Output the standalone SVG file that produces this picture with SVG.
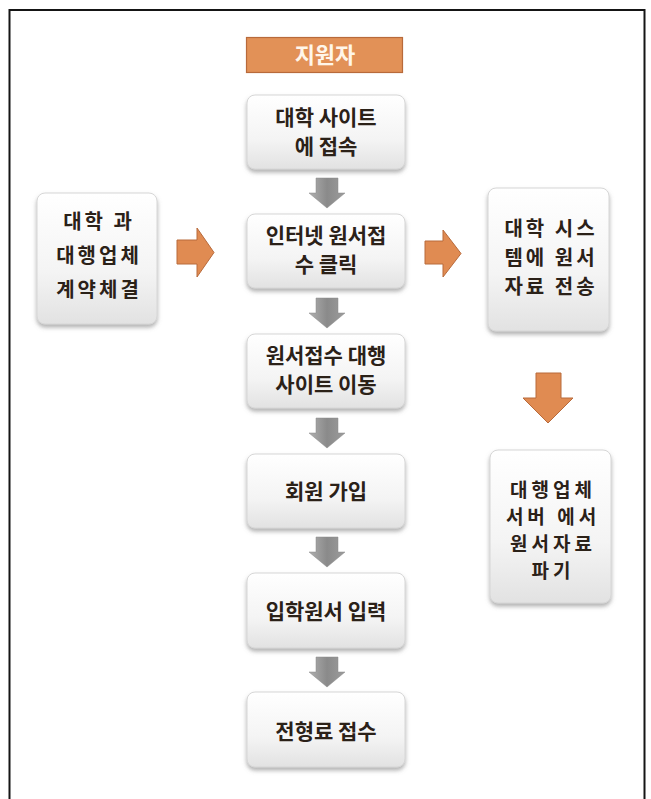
<svg xmlns="http://www.w3.org/2000/svg" width="651" height="799" viewBox="0 0 651 799">
<defs>
<linearGradient id="boxg" x1="0" y1="0" x2="0" y2="1">
<stop offset="0" stop-color="#ffffff"/>
<stop offset="0.6" stop-color="#f4f4f4"/>
<stop offset="1" stop-color="#e2e2e2"/>
</linearGradient>
<linearGradient id="grayg" x1="0" y1="0" x2="1" y2="0">
<stop offset="0" stop-color="#b0b0b0"/>
<stop offset="0.5" stop-color="#8a8a8a"/>
<stop offset="1" stop-color="#9c9c9c"/>
</linearGradient>
<filter id="sh" x="-10%" y="-10%" width="130%" height="130%">
<feDropShadow dx="0" dy="3" stdDeviation="2" flood-color="#707070" flood-opacity="0.55"/>
</filter>
</defs>
<style>
.box{fill:url(#boxg);stroke:#d6d6d6;stroke-width:1;filter:url(#sh);}
.t{font-family:"Noto Sans CJK KR","Noto Sans",sans-serif;font-weight:700;font-size:21px;fill:#2b2118;text-anchor:middle;}
.s{font-size:20px;letter-spacing:3px;}
.r{font-size:19px;letter-spacing:4px;}
.ga{fill:url(#grayg);stroke:#8a8a8a;stroke-width:0.5;}
.oa{fill:#e08b52;stroke:#b86a3b;stroke-width:1;}
</style>
<rect x="9.5" y="10" width="635" height="800" fill="#ffffff" stroke="#151515" stroke-width="2"/>

<g id="header">
<rect x="246.5" y="37.5" width="156" height="35" fill="#e29157" stroke="#b86a3b" stroke-width="1.2"/>
<text class="t" x="325" y="63" style="fill:#fff6ea;font-size:22px">지원자</text>
</g>

<g id="n1">
<rect class="box" x="247" y="95" width="158" height="74" rx="8"/>
<text class="t" x="326" y="125">대학 사이트</text>
<text class="t" x="326" y="154">에 접속</text>
</g>
<g id="n2">
<rect class="box" x="247" y="214" width="158" height="74" rx="8"/>
<text class="t" x="326" y="243">인터넷 원서접</text>
<text class="t" x="326" y="272">수 클릭</text>
</g>
<g id="n3">
<rect class="box" x="247" y="334" width="158" height="74" rx="8"/>
<text class="t" x="326" y="363">원서접수 대행</text>
<text class="t" x="326" y="392">사이트 이동</text>
</g>
<g id="n4">
<rect class="box" x="247" y="454" width="158" height="74" rx="8"/>
<text class="t" x="326" y="499">회원 가입</text>
</g>
<g id="n5">
<rect class="box" x="247" y="573" width="158" height="75" rx="8"/>
<text class="t" x="326" y="619">입학원서 입력</text>
</g>
<g id="n6">
<rect class="box" x="247" y="692" width="158" height="75" rx="8"/>
<text class="t" x="326" y="739">전형료 접수</text>
</g>

<g id="left">
<rect class="box" x="37" y="193" width="120" height="131" rx="8"/>
<text class="t s" x="99" y="229">대학 과</text>
<text class="t s" x="99" y="263">대행업체</text>
<text class="t s" x="99" y="297">계약체결</text>
</g>

<g id="right1">
<rect class="box" x="488" y="188" width="121" height="143" rx="8"/>
<text class="t s" x="551" y="236">대학 시스</text>
<text class="t s" x="551" y="265">템에 원서</text>
<text class="t s" x="551" y="294">자료 전송</text>
</g>

<g id="right2">
<rect class="box" x="490" y="450" width="121" height="153" rx="8"/>
<text class="t r" x="553" y="497">대행업체</text>
<text class="t r" x="553" y="524">서버 에서</text>
<text class="t r" x="553" y="551">원서자료</text>
<text class="t r" x="553" y="578">파기</text>
</g>

<g id="connectors">
<polygon class="ga" points="316,178 338,178 338,193 345,193 327,208 309,193 316,193"/>
<polygon class="ga" points="316,298 338,298 338,313 345,313 327,328 309,313 316,313"/>
<polygon class="ga" points="316,418 338,418 338,433 345,433 327,448 309,433 316,433"/>
<polygon class="ga" points="316,537 338,537 338,552 345,552 327,567 309,552 316,552"/>
<polygon class="ga" points="316,657 338,657 338,672 345,672 327,687 309,672 316,672"/>
<polygon class="oa" points="177,240 197,240 197,228 214,252.5 197,277 197,264 177,264"/>
<polygon class="oa" points="425,241 443,241 443,230 461,253.5 443,277 443,264 425,264"/>
<polygon class="oa" points="536,373 561,373 561,398 573,398 548,423 523,398 536,398"/>
</g>
</svg>
